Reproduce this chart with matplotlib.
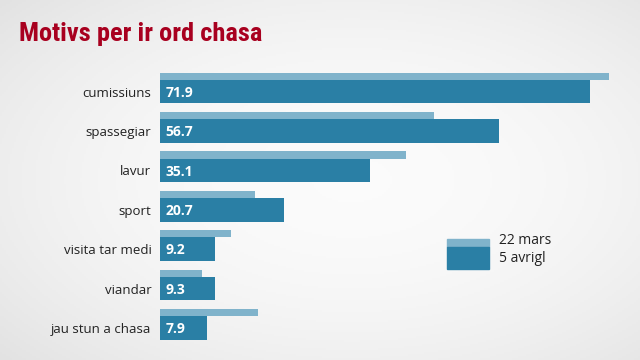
import numpy as np
import matplotlib
matplotlib.use("Agg")
import matplotlib.pyplot as plt
from matplotlib.patches import Rectangle

categories = ["cumissiuns", "spassegiar", "lavur", "sport", "visita tar medi", "viandar", "jau stun a chasa"]
mars22 = [75.1, 45.9, 41.2, 16.0, 11.9, 7.0, 16.5]
avrigl5 = [71.9, 56.7, 35.1, 20.7, 9.2, 9.3, 7.9]
series_names = ["22 mars", "5 avrigl"]

light = "#80b3cb"
dark = "#2a7fa5"
red = "#a8001f"

W, H = 640, 360
fig = plt.figure(figsize=(6.4, 3.6), dpi=100)

# background vignette
bg = fig.add_axes([0, 0, 1, 1], zorder=-10)
yy, xx = np.mgrid[0:1:180j, 0:1:320j]
r2 = ((xx - 0.55) / 0.75) ** 2 + ((yy - 0.5) / 0.75) ** 2
val = np.clip(0.985 - 0.10 * r2, 0.86, 1.0)
bg.imshow(np.dstack([val, val, val]), extent=[0, 1, 0, 1], aspect="auto", origin="lower")
bg.set_axis_off()

def fx(px):
    return px / W

def fy(py):
    return 1 - py / H

ax = fig.add_axes([fx(159.7), fy(350), fx(638.5) - fx(159.7), (350 - 60) / H])
ax.set_facecolor("none")
y = np.arange(len(categories))
ax.barh(y - 0.389, mars22, height=0.178, color=light, zorder=2)
ax.barh(y, avrigl5, height=0.6, color=dark, zorder=3)
for yi, v in zip(y, avrigl5):
    ax.text(1.0, yi + 0.03, f"{v}", color="white", fontsize=10, fontweight="bold",
            family=["Open Sans", "DejaVu Sans"], va="center", ha="left", zorder=4)
ax.set_xlim(0, 80)
ax.set_ylim(6.56, -0.8)
ax.set_yticks(y)
ax.set_yticklabels(categories, family=["Open Sans", "DejaVu Sans"], fontsize=9.5, color="#222222")
ax.tick_params(axis="y", length=0, pad=6)
ax.set_xticks([])
for s in ax.spines.values():
    s.set_visible(False)

# title
fig.text(fx(19), fy(34), "Motivs per ir ord chasa", color=red, fontsize=19, fontweight="bold",
         family=["Roboto Condensed", "Roboto", "DejaVu Sans"], va="center", ha="left")

# legend
fig.add_artist(Rectangle((fx(447.3), fy(246.7)), fx(489.3) - fx(447.3), (246.7 - 239) / H,
                         transform=fig.transFigure, color=light))
fig.add_artist(Rectangle((fx(447.3), fy(269)), fx(489.3) - fx(447.3), (269 - 246.7) / H,
                         transform=fig.transFigure, color=dark))
fig.text(fx(499), fy(241), series_names[0], fontsize=10, family=["Open Sans", "DejaVu Sans"],
         va="center", ha="left", color="#222222")
fig.text(fx(499), fy(259), series_names[1], fontsize=10, family=["Open Sans", "DejaVu Sans"],
         va="center", ha="left", color="#222222")

fig.savefig("out.png", dpi=100)
